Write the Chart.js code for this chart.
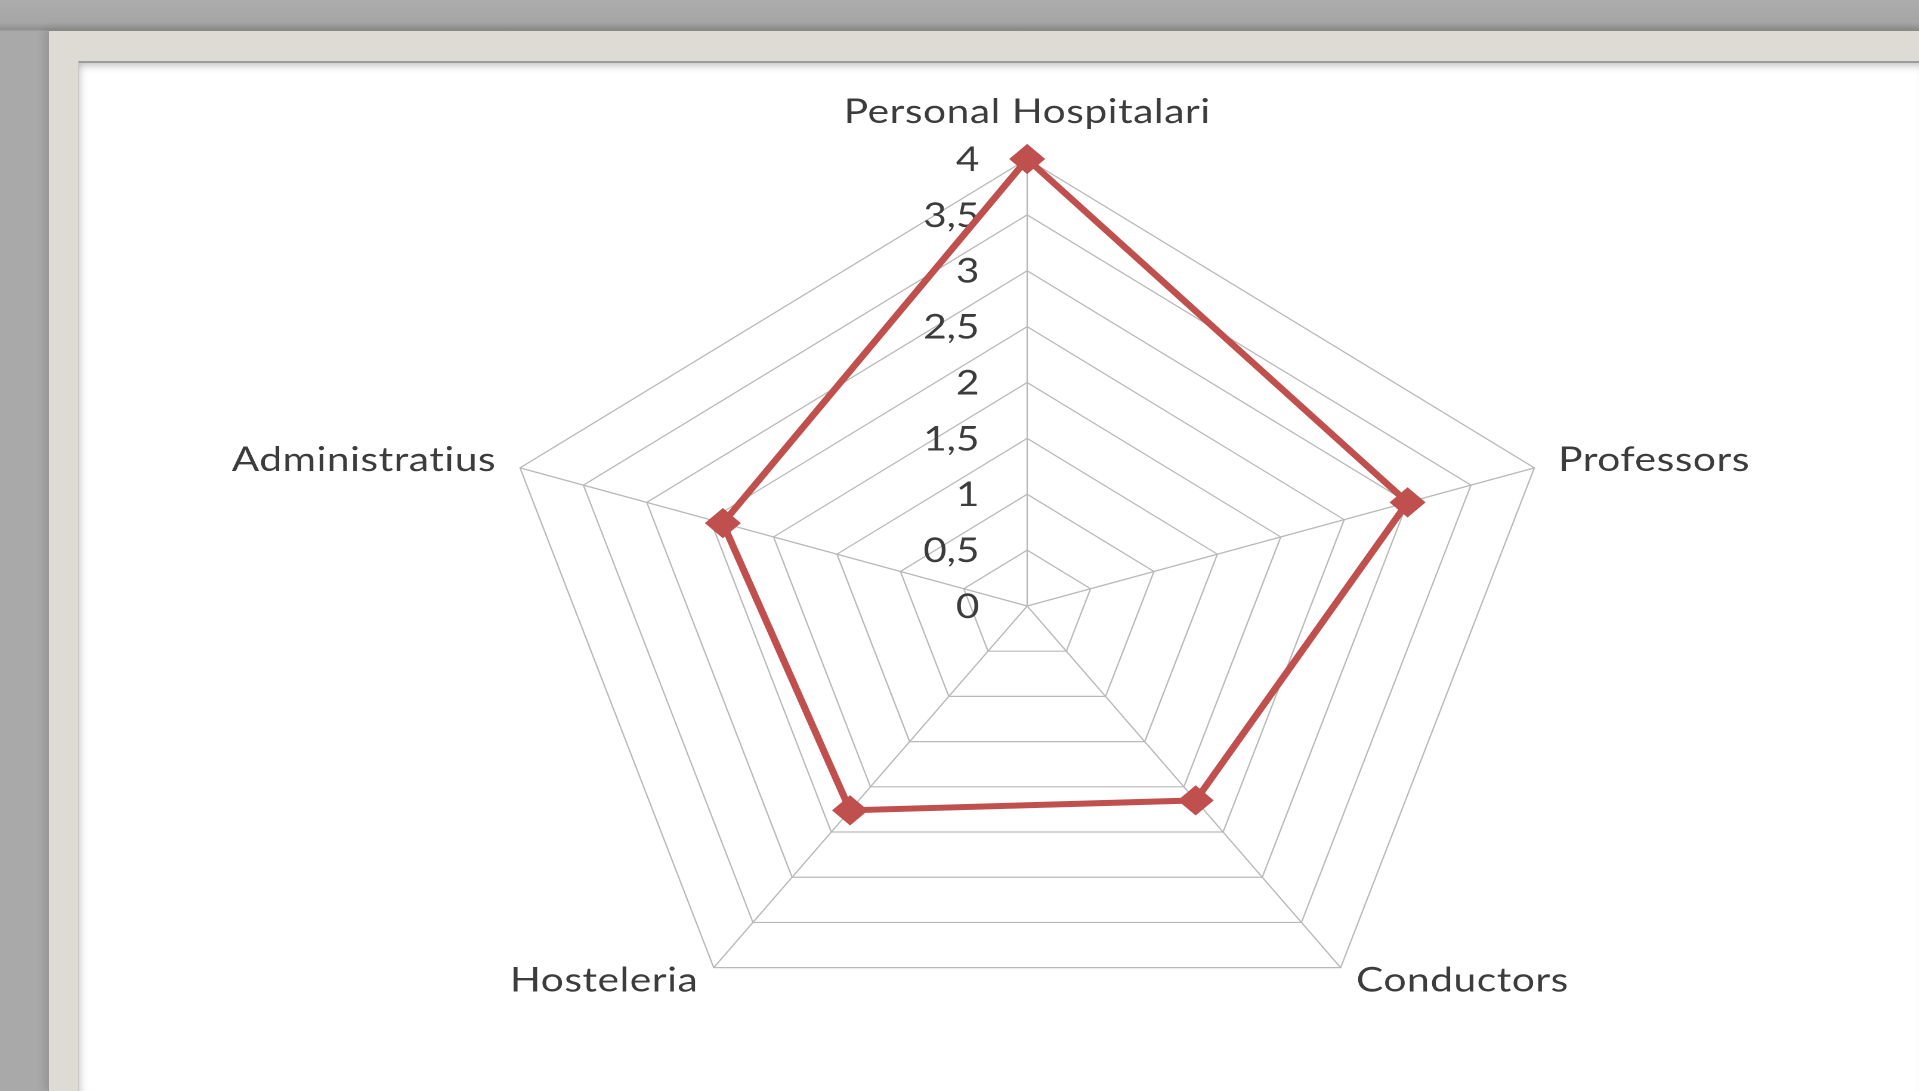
<!DOCTYPE html>
<html>
<head>
<meta charset="utf-8">
<script src="https://cdn.jsdelivr.net/npm/chart.js@4.4.1/dist/chart.umd.min.js"></script>
<style>
  html, body { margin:0; padding:0; width:1919px; height:1091px; overflow:hidden; }
  body { background: linear-gradient(to bottom, #acacac 0px, #a6a6a6 22px, #8f8f8f 30px, #a9a9a9 31px); position:relative; font-family: Lato, sans-serif; }
  #frame { position:absolute; left:48px; top:30px; right:0; bottom:0; background:#dedbd5; border-top:1px solid #8a8a8a; border-left:1px solid #9a9a9a; box-shadow:-4px 0 8px rgba(0,0,0,0.12); }
  #paper { position:absolute; left:78px; top:61px; right:0; bottom:0; background:#ffffff; border-top:2px solid #9c9c9c; border-left:1px solid #c8c8c8; box-shadow: inset 3px 5px 8px -3px rgba(0,0,0,0.28); }
  #wrap { position:absolute; left:0; top:0; width:1609px; height:1091px; transform: scaleX(1.193); transform-origin: 0 0; }
</style>
</head>
<body>
<div id="frame"></div>
<div id="paper"></div>
<div id="wrap"><canvas id="c"></canvas></div>
<script>
const categories = ['Personal Hospitalari', 'Professors', 'Conductors', 'Hosteleria', 'Administratius'];
const values = [4, 3.0, 2.15, 2.26, 2.4];
const tickValues = [0, 0.5, 1, 1.5, 2, 2.5, 3, 3.5, 4];
const tickLabels = ['0', '0,5', '1', '1,5', '2', '2,5', '3', '3,5', '4'];

const TEXT_COLOR = '#3c3c3c';
const FONT = '34px Lato, "Open Sans", sans-serif';

const excelText = {
  id: 'excelText',
  beforeDatasetsDraw(chart) {
    const s = chart.scales.r;
    const ctx = chart.ctx;
    ctx.save();
    ctx.fillStyle = TEXT_COLOR;
    ctx.font = FONT;
    // tick labels, left of the vertical axis
    ctx.letterSpacing = '0px';
    ctx.textAlign = 'right';
    ctx.textBaseline = 'middle';
    tickValues.forEach((v, i) => {
      const d = s.getDistanceFromCenterForValue(v);
      ctx.fillText(tickLabels[i], s.xCenter - 40, s.yCenter - d + 1);
    });
    // category labels around the outer ring
    ctx.letterSpacing = '0.5px';
    ctx.textBaseline = 'alphabetic';
    const n = categories.length;
    categories.forEach((lab, i) => {
      const p = s.getPointPosition(i, s.drawingArea);
      const a = i * 360 / n;
      let x = p.x, y = p.y;
      if (a === 0) { ctx.textAlign = 'center'; y -= 36; }
      else {
        const right = a < 180;
        ctx.textAlign = right ? 'left' : 'right';
        const lower = a > 90 && a < 270;
        const dx = lower ? 13 : 20;
        x += right ? dx : -dx;
        y += lower ? 24 : 3;
      }
      ctx.fillText(lab, x, y);
    });
    ctx.restore();
  }
};

new Chart(document.getElementById('c'), {
  type: 'radar',
  data: {
    labels: categories,
    datasets: [{
      data: values,
      borderColor: '#c0504d',
      backgroundColor: '#c0504d',
      borderWidth: 6,
      fill: false,
      pointStyle: 'rectRot',
      pointRadius: 13,
      pointHoverRadius: 13,
      pointBorderWidth: 3,
      pointBorderColor: '#c0504d',
      pointBackgroundColor: '#c0504d',
      tension: 0
    }]
  },
  options: {
    responsive: true,
    maintainAspectRatio: false,
    devicePixelRatio: 2,
    animation: false,
    layout: { padding: { top: 159, bottom: 38, left: 414, right: 301 } },
    plugins: { legend: { display: false }, tooltip: { enabled: false } },
    scales: {
      r: {
        min: 0, max: 4,
        ticks: { stepSize: 0.5, display: false },
        pointLabels: { display: false },
        grid: { color: '#b9b9b9', lineWidth: 1.2 },
        angleLines: { color: '#b9b9b9', lineWidth: 1.2 }
      }
    }
  },
  plugins: [excelText]
});
</script>
</body>
</html>
